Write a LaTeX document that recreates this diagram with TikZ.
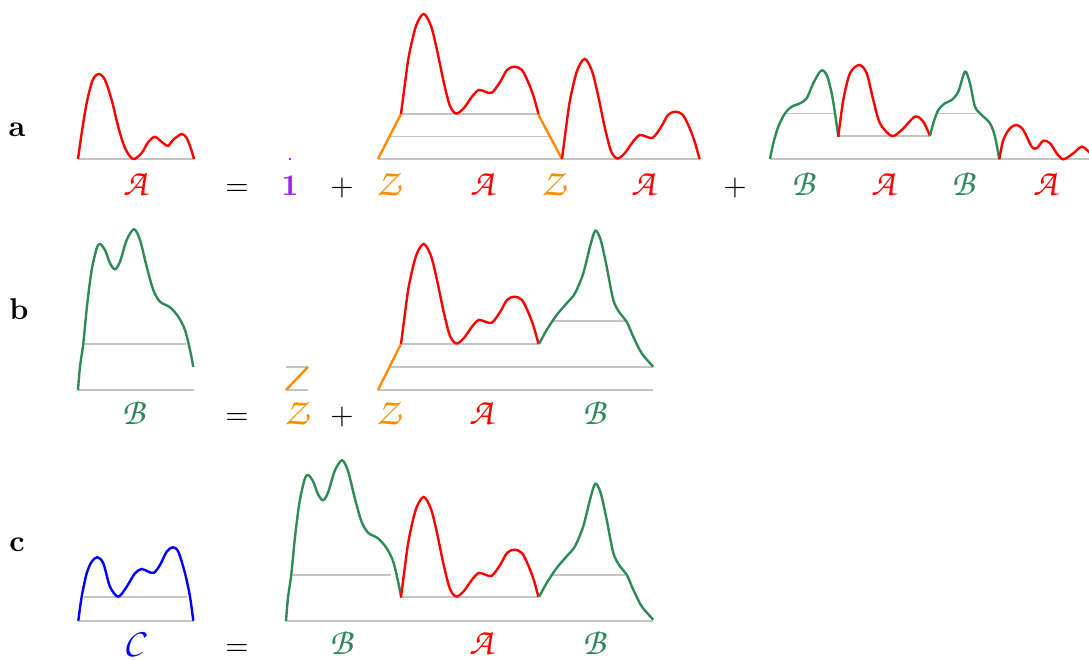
\documentclass[tikz,border=0pt]{standalone}
\definecolor{bgreen}{HTML}{2E8B57}
\definecolor{zorange}{HTML}{FF8C00}
\definecolor{onepurple}{HTML}{A020F0}
\definecolor{levelgray}{HTML}{C4C4C4}
\newcommand{\cls}[1]{{\fontencoding{OT1}\fontfamily{pzc}\fontsize{12.5}{15}\selectfont #1}}
\begin{document}
\begin{tikzpicture}[x=0.3333pt, y=-0.3333pt,
    levelline/.style={draw=levelgray, line width=0.4pt},
    acurve/.style={draw=red, line width=0.8pt},
    bcurve/.style={draw=bgreen, line width=0.8pt},
    ccurve/.style={draw=blue, line width=0.8pt},
    zstep/.style={draw=zorange, line width=0.8pt},
    lab/.style={anchor=base, inner sep=0pt}]
    \useasboundingbox (0,0) rectangle (1089,660);

    % Row labels
    \node[lab] (rowa) at (17,137) {\textbf{a}};
    \node[lab] (rowb) at (19,320) {\textbf{b}};
    \node[lab] (rowc) at (17,552) {\textbf{c}};

    %%% a: A = 1 + Z A Z A + B A B A
    % A
    \draw[levelline] (78,159) -- (194,159);
    \draw[acurve] plot[smooth] coordinates {(78,159) (81.7,133) (86.7,103) (92.7,80) (99,74) (105,80) (111.7,100) (118.3,127) (125,148) (133,159) (141.7,153) (148.3,142) (155,137) (163,143) (168,146) (173,140) (181.7,134) (186.7,138) (190.7,148) (194,159)};

    % 1
    \fill[onepurple] (290,159) circle[radius=0.45pt];

    % Z A Z A
    \draw[levelline] (378,159) -- (700,159);
    \draw[levelline] (389.5,136.5) -- (550,136.5);
    \draw[levelline] (401,114) -- (538,114);
    \draw[zstep] (378,159) -- (401,114);
    \draw[acurve, shift={(401,114)}] plot[smooth] coordinates {(0,0) (2.7,-20.7) (7.7,-57) (15,-88) (22.7,-100) (30,-88) (36,-64) (42.7,-32) (49,-8) (55.3,-0.5) (62.7,-5.7) (71,-17.3) (77.7,-24) (84.3,-22.3) (91,-21.3) (99.3,-32.3) (106,-44) (113.3,-47.3) (121,-44) (127.7,-30.7) (132.7,-17.3) (137.5,0)};
    \draw[zstep] (538,114) -- (562,159);
    \draw[acurve, shift={(562,159)}] plot[smooth] coordinates {(0,0) (2.7,-20.7) (7.7,-57) (15,-88) (22.7,-100) (30,-88) (36,-64) (42.7,-32) (49,-8) (55.3,-0.5) (62.7,-5.7) (71,-17.3) (77.7,-24) (84.3,-22.3) (91,-21.3) (99.3,-32.3) (106,-44) (113.3,-47.3) (121,-44) (127.7,-30.7) (132.7,-17.3) (137.5,0)};

    % B A B A
    \draw[levelline] (770,159) -- (1097,159);
    \draw[levelline] (785,113.3) -- (836,113.3);
    \draw[levelline] (838,136) -- (930,136);
    \draw[levelline] (937,113.3) -- (977,113.3);
    \draw[bcurve] plot[smooth] coordinates {(770,159) (773.3,143.3) (778.3,126.7) (785,113.3) (791.7,106.7) (800,103.3) (806.7,98.3) (813.3,83.3) (821,70.7) (826.7,75) (831.7,93.3) (835,113.3) (838.3,136.7)};
    \draw[acurve] plot[smooth] coordinates {(838.3,136.7) (843.3,100) (850,73.3) (859.3,65) (866.7,73.3) (873.3,100) (880,123.3) (891.7,136) (901.7,130) (915,116.7) (923.3,121.7) (930,136)};
    \draw[bcurve] plot[smooth] coordinates {(930,136) (933.3,123.3) (938.3,110) (945,103.3) (951.7,100) (958.3,91.7) (965,71.7) (970,83.3) (975,106.7) (981.7,115) (990,123.3) (995,136.7) (999.3,159.3)};
    \draw[acurve] plot[smooth] coordinates {(999.3,159.3) (1003.3,140) (1010,128.3) (1016.7,125) (1023.3,130) (1031.7,146.7) (1036.7,148.3) (1043.3,140.7) (1050,143.3) (1056.7,153.3) (1063.3,159.3) (1073.3,153.3) (1081.7,146.7) (1089,152) (1096,160)};

    % labels a
    \node[lab, red] (la1) at (135,196) {\cls{A}};
    \node[lab] (eqa) at (237,196) {$=$};
    \node[lab, onepurple] (one) at (290,196) {$\mathbf{1}$};
    \node[lab] (plusa1) at (342,196) {$+$};
    \node[lab, zorange] (za1) at (388,196) {\cls{Z}};
    \node[lab, red] (la2) at (482,196) {\cls{A}};
    \node[lab, zorange] (za2) at (553,196) {\cls{Z}};
    \node[lab, red] (la3) at (643,196) {\cls{A}};
    \node[lab] (plusa2) at (735,196) {$+$};
    \node[lab, bgreen] (lb1) at (803,196) {\cls{B}};
    \node[lab, red] (la4) at (883,196) {\cls{A}};
    \node[lab, bgreen] (lb2) at (963,196) {\cls{B}};
    \node[lab, red] (la5) at (1045,196) {\cls{A}};

    %%% b: B = Z + Z A B
    % B
    \draw[levelline] (78,390) -- (194,390);
    \draw[levelline] (83,344) -- (186,344);
    \draw[bcurve, shift={(78,390)}] plot[smooth] coordinates {(0,0) (2,-23.3) (5.3,-46.7) (9.3,-86.7) (13.7,-120) (18.7,-141.7) (22,-146) (27,-140) (32,-126.7) (37,-120.7) (42,-128.3) (48.7,-150) (56,-160.7) (62,-150) (68.7,-123.3) (75.3,-100) (82,-88.3) (92,-82.7) (100.3,-73.3) (107,-60) (112,-40) (115.3,-23)};

    % Z
    \draw[levelline] (286,367) -- (308,367);
    \draw[levelline] (286,390) -- (308,390);
    \draw[zstep] (286,390) -- (308,367);

    % Z A B
    \draw[levelline] (378,390) -- (653,390);
    \draw[levelline] (390,367) -- (653,367);
    \draw[levelline] (401,344) -- (539,344);
    \draw[levelline] (554,321) -- (626,321);
    \draw[zstep] (378,390) -- (401,344);
    \draw[acurve, shift={(401,344)}] plot[smooth] coordinates {(0,0) (2.7,-20.7) (7.7,-57) (15,-88) (22.7,-100) (30,-88) (36,-64) (42.7,-32) (49,-8) (55.3,-0.5) (62.7,-5.7) (71,-17.3) (77.7,-24) (84.3,-22.3) (91,-21.3) (99.3,-32.3) (106,-44) (113.3,-47.3) (121,-44) (127.7,-30.7) (132.7,-17.3) (137.5,0)};
    \draw[bcurve, shift={(539,344)}] plot[smooth] coordinates {(0,0) (7.7,-14) (17.7,-29) (27.7,-40.7) (36,-50.7) (44.3,-70.7) (51,-97.3) (56.3,-113.3) (61.7,-104) (67.7,-77.3) (74.3,-44) (81,-30.7) (87.7,-22.3) (94.3,-7.3) (102.7,9.3) (114.3,22.7)};

    % labels b
    \node[lab, bgreen] (lb3) at (133,425) {\cls{B}};
    \node[lab] (eqb) at (237,425) {$=$};
    \node[lab, zorange] (zb1) at (296,425) {\cls{Z}};
    \node[lab] (plusb) at (342,425) {$+$};
    \node[lab, zorange] (zb2) at (388,425) {\cls{Z}};
    \node[lab, red] (la6) at (481,425) {\cls{A}};
    \node[lab, bgreen] (lb4) at (594,425) {\cls{B}};

    %%% c: C = B A B
    % C
    \draw[levelline] (78,621) -- (194,621);
    \draw[levelline] (84,597) -- (187,597);
    \draw[ccurve] plot[smooth] coordinates {(78.3,620.7) (81.7,596.7) (86.7,573.3) (91.7,561.7) (97.3,557.3) (103.3,563.3) (110,586.7) (118.3,596.7) (126.7,586.7) (135,573.3) (141.7,569) (148.3,571.7) (154,572.7) (160,565) (166.7,551.7) (172.7,547.3) (178.3,551.7) (185,573.3) (190,596.7) (193.3,620.7)};

    % B A B
    \draw[levelline] (286,621) -- (653,621);
    \draw[levelline] (290,575) -- (391,575);
    \draw[levelline] (401,597) -- (539,597);
    \draw[levelline] (553,575) -- (625,575);
    \draw[bcurve, shift={(286,621)}] plot[smooth] coordinates {(0,0) (2,-23.3) (5.3,-46.7) (9.3,-86.7) (13.7,-120) (18.7,-141.7) (22,-146) (27,-140) (32,-126.7) (37,-120.7) (42,-128.3) (48.7,-150) (56,-160.7) (62,-150) (68.7,-123.3) (75.3,-100) (82,-88.3) (92,-82.7) (100.3,-73.3) (107,-60) (112,-40) (115.3,-23)};
    \draw[acurve, shift={(401,597)}] plot[smooth] coordinates {(0,0) (2.7,-20.7) (7.7,-57) (15,-88) (22.7,-100) (30,-88) (36,-64) (42.7,-32) (49,-8) (55.3,-0.5) (62.7,-5.7) (71,-17.3) (77.7,-24) (84.3,-22.3) (91,-21.3) (99.3,-32.3) (106,-44) (113.3,-47.3) (121,-44) (127.7,-30.7) (132.7,-17.3) (137.5,0)};
    \draw[bcurve, shift={(539,597)}] plot[smooth] coordinates {(0,0) (7.7,-14) (17.7,-29) (27.7,-40.7) (36,-50.7) (44.3,-70.7) (51,-97.3) (56.3,-113.3) (61.7,-104) (67.7,-77.3) (74.3,-44) (81,-30.7) (87.7,-22.3) (94.3,-7.3) (102.7,9.3) (114.3,22.7)};

    % labels c
    \node[lab, blue] (lc) at (133,655) {\cls{C}};
    \node[lab] (eqc) at (237,656) {$=$};
    \node[lab, bgreen] (lb5) at (341,655) {\cls{B}};
    \node[lab, red] (la7) at (481,655) {\cls{A}};
    \node[lab, bgreen] (lb6) at (594,655) {\cls{B}};
\end{tikzpicture}
\end{document}
